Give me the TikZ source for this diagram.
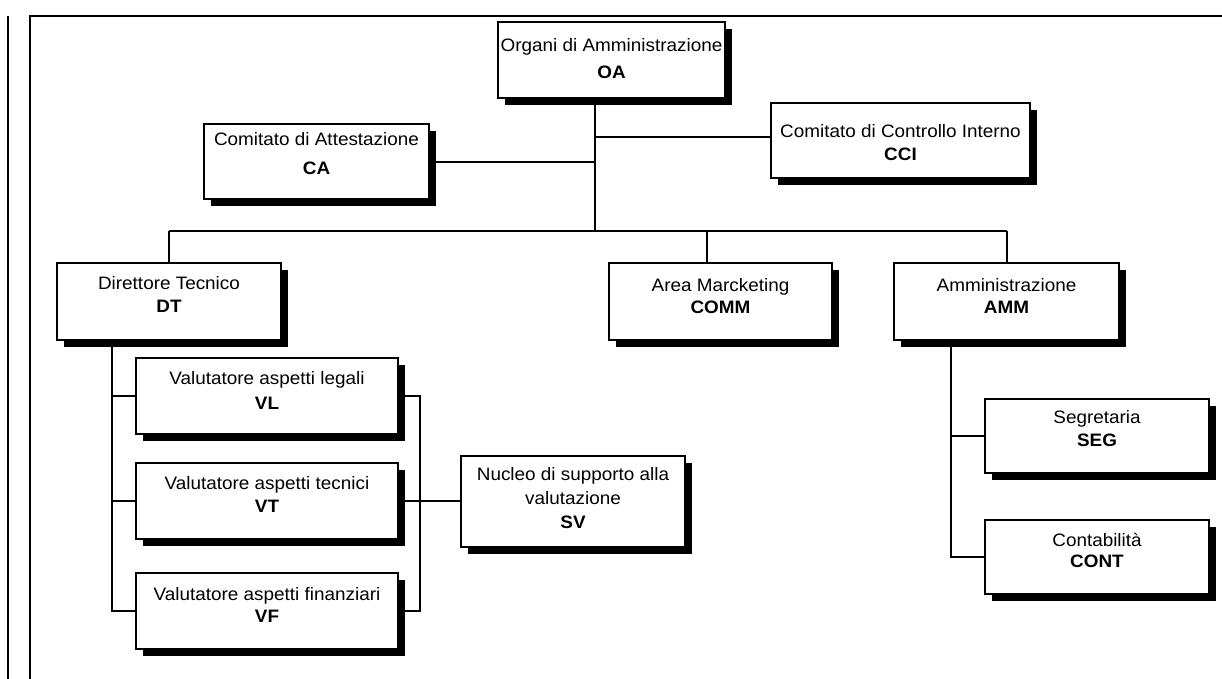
\documentclass[tikz,border=0pt]{standalone}
\usepackage{fontspec}
\setmainfont[FakeStretch=1.05]{Liberation Sans}
\usetikzlibrary{shadows}
\begin{document}
\begin{tikzpicture}[x=1pt,y=-1pt,
  orgbox/.style={draw=black, line width=1.3pt, fill=white, inner sep=0pt,
    drop shadow={shadow xshift=7pt, shadow yshift=-7pt, fill=black, opacity=1}},
  lbl/.style={inner sep=0pt, align=center, font=\fontsize{18}{24}\selectfont},
  conn/.style={draw=black, line width=1.3pt}]
\useasboundingbox (0,0) rectangle (1222,679);
% frame
\draw[line width=2.8pt] (8,16) -- (8,679);
\draw[line width=1.5pt] (30,679) -- (30,16);
\draw[line width=2.2pt] (29.25,16) -- (1222,16);
% boxes
\node[orgbox, minimum width=227pt, minimum height=76pt] (oa)   at (611.5,60) {};
\node[orgbox, minimum width=225pt, minimum height=75pt] (ca)   at (316.5,161.5) {};
\node[orgbox, minimum width=259pt, minimum height=75pt] (cci)  at (900.5,140.5) {};
\node[orgbox, minimum width=224pt, minimum height=77pt] (dt)   at (169,301.5) {};
\node[orgbox, minimum width=223pt, minimum height=77pt] (comm) at (720.5,301.5) {};
\node[orgbox, minimum width=225pt, minimum height=77pt] (amm)  at (1006.5,301.5) {};
\node[orgbox, minimum width=262pt, minimum height=76pt] (vl)   at (267,396) {};
\node[orgbox, minimum width=262pt, minimum height=76pt] (vt)   at (267,501) {};
\node[orgbox, minimum width=262pt, minimum height=76pt] (vf)   at (267,611) {};
\node[orgbox, minimum width=224pt, minimum height=91pt] (sv)   at (573,501.5) {};
\node[orgbox, minimum width=224pt, minimum height=74pt] (seg)  at (1097,436) {};
\node[orgbox, minimum width=224pt, minimum height=74pt] (cont) at (1097,557) {};
% texts
\node[lbl] (toa)   at (611.5,58.5) {Organi di Amministrazione\\[3pt]\textbf{OA}};
\node[lbl] (tca)   at (316.5,153.5) {Comitato di Attestazione\\[5pt]\textbf{CA}};
\node[lbl] (tcci)  at (900.5,142.5) {Comitato di Controllo Interno\\[-1pt]\textbf{CCI}};
\node[lbl] (tdt)   at (169,294.5) {Direttore Tecnico\\[-1pt]\textbf{DT}};
\node[lbl] (tcomm) at (720.5,296) {Area Marcketing\\[-2pt]\textbf{COMM}};
\node[lbl] (tamm)  at (1006.5,296) {Amministrazione\\[-2pt]\textbf{AMM}};
\node[lbl] (tvl)   at (267,390.5) {Valutatore aspetti legali\\[1pt]\textbf{VL}};
\node[lbl] (tvt)   at (267,494.5) {Valutatore aspetti tecnici\\[-1pt]\textbf{VT}};
\node[lbl] (tvf)   at (267,605) {Valutatore aspetti finanziari\\[-2pt]\textbf{VF}};
\node[lbl] (tsv)   at (573,498) {Nucleo di supporto alla\\[-0.5pt]valutazione\\[0pt]\textbf{SV}};
\node[lbl] (tseg)  at (1097,428.5) {Segretaria\\[-1pt]\textbf{SEG}};
\node[lbl] (tcont) at (1097,550.5) {Contabilità\\[-3pt]\textbf{CONT}};
% connectors
\coordinate (trunk) at (595,231);
\coordinate (jcci) at (595,137);
\coordinate (jca) at (595,162);
\coordinate (busL) at (169,231);
\coordinate (busM) at (707,231);
\coordinate (busR) at (1007,231);
\draw[conn] (oa.south -| trunk) -- (trunk);
\draw[conn] (jcci) -- (jcci -| cci.west);
\draw[conn] (ca.east |- jca) -- (jca);
\draw[conn] (busL) -- (busR);
\draw[conn] (busL) -- (dt.north);
\draw[conn] (busM) -- (busM |- comm.north);
\draw[conn] (busR) -- (busR |- amm.north);
\coordinate (dtx) at (112,611);
\draw[conn] (dt.south -| dtx) -- (dtx) -- (vf.west);
\draw[conn] (vl.west) -- (vl.west -| dtx);
\draw[conn] (vt.west) -- (vt.west -| dtx);
\coordinate (rbx) at (420,611);
\draw[conn] (vl.east) -| (rbx) -- (vf.east);
\draw[conn] (vt.east) -- (vt.east -| sv.west);
\coordinate (ammx) at (951,557);
\draw[conn] (amm.south -| ammx) -- (ammx) -- (cont.west);
\draw[conn] (ammx |- seg.west) -- (seg.west);
\end{tikzpicture}
\end{document}
